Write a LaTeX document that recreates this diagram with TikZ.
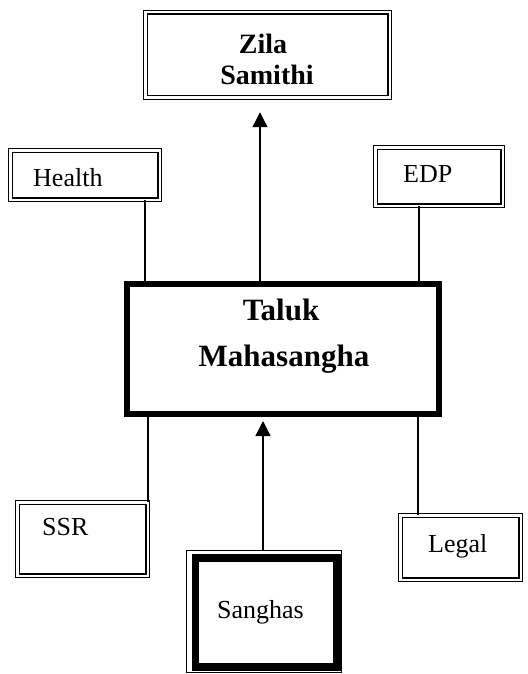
\documentclass[tikz,border=0pt]{standalone}
\usepackage{fontspec}
\setmainfont{Liberation Serif}
\usetikzlibrary{arrows.meta}
\begin{document}
\begin{tikzpicture}[x=1pt,y=-1pt,
  dbox/.style={draw, line width=1.3pt, double=white, double distance=2.2pt,
    inner sep=0pt, minimum width=#1},
  thickbox/.style={draw, line width=6pt, inner sep=0pt},
  plainbox/.style={draw, line width=1.2pt, inner sep=0pt},
  label text/.style={inner sep=0pt, font=\fontsize{26}{30}\selectfont},
  head text/.style={inner sep=0pt, font=\fontsize{28}{31}\selectfont\bfseries},
  big text/.style={inner sep=0pt, font=\fontsize{31}{36}\selectfont\bfseries},
  conn/.style={line width=1.3pt},
  arr/.style={line width=1.3pt, -{Triangle[width=15pt,length=15pt]}}]
\useasboundingbox (0,0) rectangle (527,674);

% boxes
\node[dbox=244.2pt, minimum height=85.2pt] (zila) at (267.5,55) {};
\node[dbox=149.2pt, minimum height=49.2pt] (health) at (85,175) {};
\node[dbox=127.2pt, minimum height=58.2pt] (edp) at (439,176.5) {};
\node[thickbox, minimum width=312pt, minimum height=130pt] (taluk) at (283,349) {};
\node[dbox=130.2pt, minimum height=73.2pt] (ssr) at (82.5,539) {};
\node[dbox=120.2pt, minimum height=64.2pt] (legal) at (460.5,547.5) {};
\node[plainbox, minimum width=155pt, minimum height=122pt] (sanghas) at (264,611.5) {};
\draw[line width=7.5pt] ([shift={(9.5,8)}]sanghas.north west)
  rectangle ([shift={(-5,-6)}]sanghas.south east);

% texts
\node[head text, anchor=base] (zilaA) at (263,54) {Zila};
\node[head text, anchor=base] (zilaB) at (267,85) {Samithi};
\node[big text, anchor=base] (talukA) at (281,320) {Taluk};
\node[big text, anchor=base] (talukB) at (284,366) {Mahasangha};
\node[label text, anchor=base west] (healthT) at (33,186) {Health};
\node[label text, anchor=base west] (edpT) at (403,182) {EDP};
\node[label text, anchor=base west] (ssrT) at (42,535) {SSR};
\node[label text, anchor=base west] (legalT) at (428,552) {Legal};
\node[label text, anchor=base west] (sanghasT) at (217,618) {Sanghas};

% x positions of the connectors
\coordinate (xh) at (145,0);
\coordinate (xz) at (260,0);
\coordinate (xe) at (419,0);
\coordinate (xs) at (148,0);
\coordinate (xc) at (263,0);
\coordinate (xl) at (418,0);

% connectors
\draw[conn] (health.south -| xh) -- (taluk.north -| xh);
\draw[conn] (edp.south -| xe) -- (taluk.north -| xe);
\draw[arr, shorten >=14pt] (taluk.north -| xz) -- (zila.south -| xz);
\draw[conn] (taluk.south -| xs) -- (ssr.north -| xs);
\draw[conn] (taluk.south -| xl) -- (legal.north -| xl);
\draw[arr, shorten >=4pt] (sanghas.north -| xc) -- (taluk.south -| xc);
\end{tikzpicture}
\end{document}
